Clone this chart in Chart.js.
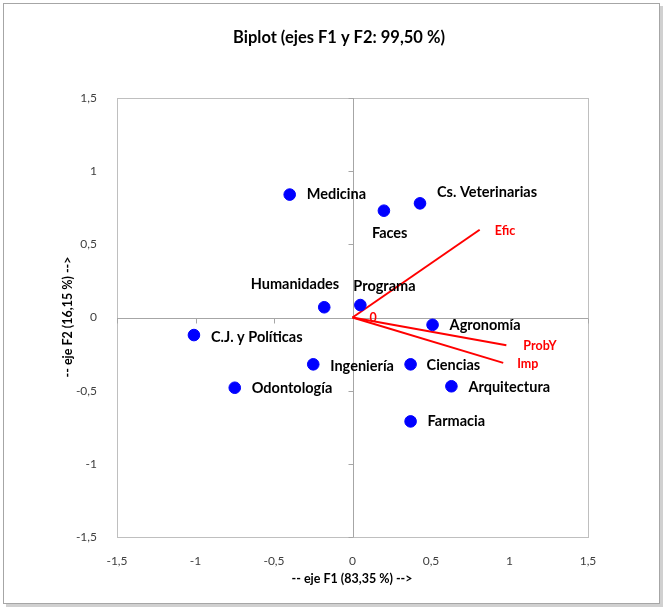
<!DOCTYPE html>
<html>
<head>
<meta charset="utf-8">
<script src="https://cdn.jsdelivr.net/npm/chart.js@4/dist/chart.umd.min.js"></script>
<style>
  html, body { margin: 0; padding: 0; background: #fff; }
  #wrap { width: 668px; height: 608px; position: relative; }
</style>
</head>
<body>
<div id="wrap"><canvas id="biplot" width="668" height="608"></canvas></div>
<script>
// Observaciones (programas)
const programas = ['Medicina', 'Cs. Veterinarias', 'Faces', 'Humanidades', 'Programa', 'Agronomía',
  'C.J. y Políticas', 'Ingeniería', 'Ciencias', 'Odontología', 'Arquitectura', 'Farmacia'];
const f1Obs = [-0.40, 0.43, 0.20, -0.18, 0.05, 0.51, -1.01, -0.25, 0.37, -0.75, 0.63, 0.37];
const f2Obs = [0.84, 0.78, 0.73, 0.07, 0.085, -0.05, -0.12, -0.32, -0.32, -0.48, -0.47, -0.71];

// Variables (vectores)
const variables = ['Efic', 'ProbY', 'Imp', '0'];
const f1Var = [0.81, 0.98, 0.96, 0];
const f2Var = [0.60, -0.19, -0.31, 0];

const ejeTicks = [-1.5, -1, -0.5, 0, 0.5, 1, 1.5];

// desplazamiento de etiquetas (px)
const obsOffsets = [[17, 0], [17, -11], [-12, 23], [15, -23], [-7, -19], [17, 1],
  [17, 2], [17, 2], [16, 1], [17, 1], [17, 1], [17, 0]];
const obsAlign = ['left', 'left', 'left', 'right', 'left', 'left', 'left', 'left', 'left', 'left', 'left', 'left'];
const varOffsets = [[15, 1], [17, 1], [14, 1], [17, 0]];

const FONT = 'Lato, "Open Sans", sans-serif';
const coma = v => String(v).replace('.', ',');

const datasets = [{
  label: 'obs',
  data: programas.map((p, i) => ({ x: f1Obs[i], y: f2Obs[i] })),
  backgroundColor: '#0000ff',
  borderColor: '#0000ff',
  pointRadius: 5.8,
  showLine: false
}];
variables.forEach((v, i) => {
  datasets.push({
    label: v,
    data: [{ x: 0, y: 0 }, { x: f1Var[i], y: f2Var[i] }],
    borderColor: '#ff0000',
    borderWidth: 2,
    pointRadius: 0,
    showLine: true
  });
});

const decor = {
  id: 'decor',
  beforeDraw(chart) {
    const { ctx, chartArea: a, scales: { x, y } } = chart;
    ctx.save();
    // marco exterior con sombra
    ctx.fillStyle = '#d0d0d0';
    ctx.fillRect(6, 6, 657, 601);
    ctx.fillStyle = '#fff';
    ctx.fillRect(3, 3, 657, 601);
    ctx.strokeStyle = '#a6a6a6';
    ctx.lineWidth = 1;
    ctx.strokeRect(3.5, 3.5, 656, 600);
    // area de trazado
    ctx.strokeStyle = '#bfbfbf';
    ctx.strokeRect(Math.round(a.left) + 0.5, Math.round(a.top) + 0.5, Math.round(a.width), Math.round(a.height));
    // ejes en cero
    const x0 = Math.round(x.getPixelForValue(0)) + 0.5;
    const y0 = Math.round(y.getPixelForValue(0)) + 0.5;
    ctx.strokeStyle = '#a6a6a6';
    ctx.beginPath();
    ctx.moveTo(a.left, y0); ctx.lineTo(a.right, y0);
    ctx.moveTo(x0, a.top); ctx.lineTo(x0, a.bottom);
    ejeTicks.forEach(t => {
      const px = Math.round(x.getPixelForValue(t)) + 0.5;
      ctx.moveTo(px, y0); ctx.lineTo(px, y0 + 5);
      const py = Math.round(y.getPixelForValue(t)) + 0.5;
      ctx.moveTo(x0 - 5, py); ctx.lineTo(x0, py);
    });
    ctx.stroke();
    // titulo
    ctx.fillStyle = '#000';
    ctx.font = 'bold 16.5px ' + FONT;
    ctx.textAlign = 'center';
    ctx.textBaseline = 'middle';
    ctx.fillText('Biplot (ejes F1 y F2: 99,50 %)', 339, 38);
    // titulos de ejes
    ctx.font = 'bold 12.5px ' + FONT;
    ctx.fillStyle = '#000';
    ctx.fillText('-- eje F1 (83,35 %) -->', 352, 579);
    ctx.translate(68, 317);
    ctx.rotate(-Math.PI / 2);
    ctx.fillText('-- eje F2 (16,15 %) -->', 0, 0);
    ctx.restore();
  },
  afterDatasetsDraw(chart) {
    const { ctx, scales: { x, y } } = chart;
    ctx.save();
    ctx.textBaseline = 'middle';
    ctx.font = 'bold 14.5px ' + FONT;
    ctx.fillStyle = '#000';
    programas.forEach((p, i) => {
      ctx.textAlign = obsAlign[i];
      ctx.fillText(p, x.getPixelForValue(f1Obs[i]) + obsOffsets[i][0], y.getPixelForValue(f2Obs[i]) + obsOffsets[i][1]);
    });
    ctx.font = 'bold 12.5px ' + FONT;
    ctx.fillStyle = '#ff0000';
    ctx.textAlign = 'left';
    variables.forEach((v, i) => {
      ctx.fillText(v, x.getPixelForValue(f1Var[i]) + varOffsets[i][0], y.getPixelForValue(f2Var[i]) + varOffsets[i][1]);
    });
    ctx.restore();
  }
};

new Chart(document.getElementById('biplot'), {
  type: 'scatter',
  data: { datasets },
  options: {
    responsive: false,
    animation: false,
    layout: { padding: { top: 98, right: 80, bottom: 0, left: 0 } },
    plugins: { legend: { display: false }, tooltip: { enabled: false } },
    scales: {
      x: {
        min: -1.5, max: 1.5,
        afterBuildTicks: s => { s.ticks = ejeTicks.map(v => ({ value: v })); },
        afterFit: s => { s.height = 71; },
        grid: { display: false },
        border: { display: false },
        ticks: { color: '#404040', font: { size: 12, family: FONT }, padding: 9, maxRotation: 0, callback: v => coma(v) }
      },
      y: {
        min: -1.5, max: 1.5,
        afterBuildTicks: s => { s.ticks = ejeTicks.map(v => ({ value: v })); },
        afterFit: s => { s.width = 117; },
        grid: { display: false },
        border: { display: false },
        ticks: { color: '#404040', font: { size: 12, family: FONT }, padding: 12, callback: v => coma(v) }
      }
    }
  },
  plugins: [decor]
});
</script>
</body>
</html>
